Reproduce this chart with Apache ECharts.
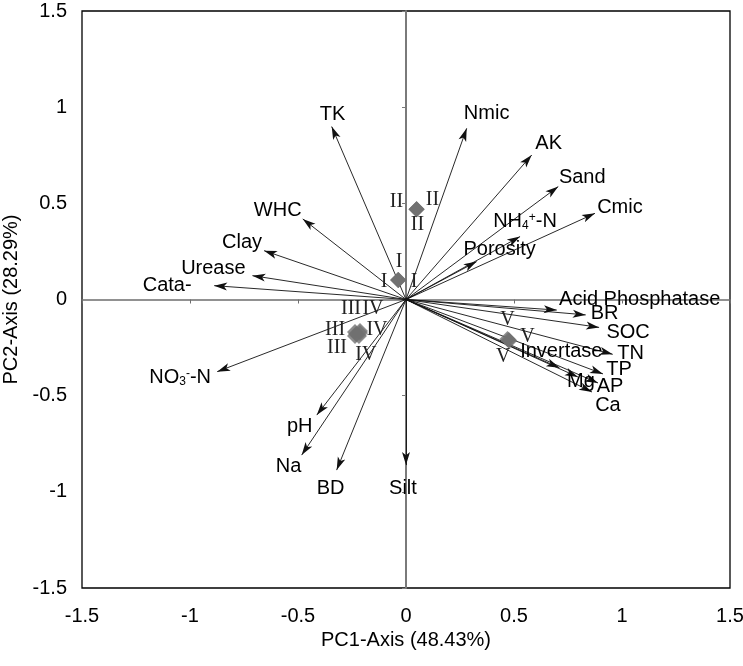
<!DOCTYPE html>
<html>
<head>
<meta charset="utf-8">
<script src="https://cdn.jsdelivr.net/npm/echarts@6/dist/echarts.min.js"></script>
<style>html,body{margin:0;padding:0;background:#fff}#chart{width:743px;height:666px}</style>
</head>
<body>
<div id="chart"></div>
<script>
// ---------------- DATA ----------------
const varNames = ['TK','Nmic','AK','Sand','Cmic','NH4+-N','Porosity','WHC','Clay','Urease','Cata-','NO3--N','pH','Na','BD','Silt','Acid Phosphatase','BR','SOC','TN','Invertase','TP','Mg','AP','Ca'];
const varPC1 = [-0.344, 0.281, 0.582, 0.705, 0.875, 0.528, 0.327, -0.478, -0.657, -0.711, -0.888, -0.874, -0.413, -0.483, -0.321, 0.000, 0.698, 0.832, 0.894, 0.957, 0.710, 0.912, 0.796, 0.889, 0.861];
const varPC2 = [0.899, 0.890, 0.751, 0.587, 0.448, 0.327, 0.197, 0.419, 0.254, 0.124, 0.072, -0.375, -0.601, -0.809, -0.887, -0.861, -0.055, -0.080, -0.145, -0.285, -0.355, -0.387, -0.403, -0.434, -0.481];

const sampleNames = ['I','I','I','II','II','II','III','III','III','IV','IV','IV','V','V','V'];
const samplePC1 = [-0.036, -0.036, -0.036, 0.049, 0.049, 0.049, -0.236, -0.236, -0.231, -0.213, -0.218, -0.213, 0.470, 0.478, 0.475];
const samplePC2 = [0.101, 0.101, 0.101, 0.469, 0.469, 0.469, -0.169, -0.190, -0.179, -0.174, -0.190, -0.164, -0.205, -0.215, -0.210];

const axisTicks = [-1.5, -1, -0.5, 0, 0.5, 1, 1.5];
const xName = 'PC1-Axis (48.43%)';
const yName = 'PC2-Axis (28.29%)';

// ---------------- STYLE (label placement in px, relative to the point) ----------------
const varLabelOffset = {
  'TK':[1,-12], 'Nmic':[20,-15], 'AK':[17,-12], 'Sand':[24,-9], 'Cmic':[25,-6],
  'NH4+-N':[5,-15], 'Porosity':[23,-12], 'WHC':[-25,-8], 'Clay':[-22,-8],
  'Urease':[-39,-7], 'Cata-':[-47,0], 'NO3--N':[-37,6], 'pH':[-17,11], 'Na':[-13,11],
  'BD':[-6,18], 'Silt':[-3,23], 'Acid Phosphatase':[83,-11], 'BR':[19,-1],
  'SOC':[29,5], 'TN':[18,-1], 'Invertase':[2,-16], 'TP':[16,-4], 'Mg':[3,5],
  'AP':[12,4], 'Ca':[16,14]
};
const sampleLabelOffset = [[1,-18],[-14,2],[16,2],[-20,-7],[16,-9],[1,16],[-4,-23],[-18,12],[-21,-4],[17,-3],[7,19],[13,-22],[0,-19],[-6,16],[19,-3]];

const labelFont = 'Liberation Sans, Arial, sans-serif';
const serifFont = 'Liberation Serif, Times New Roman, serif';

// ---------------- BUILD ----------------
const arrowData = varNames.map((n, i) => ({ name: n, coords: [[0, 0], [varPC1[i], varPC2[i]]] }));
const richFmt = {
  'NH4+-N': 'NH{sub|4}{sup|+}-N',
  'NO3--N': 'NO{sub|3}{sup|-}-N'
};
const varLabelData = varNames.map((n, i) => ({
  name: n,
  value: [varPC1[i], varPC2[i]],
  label: { position: varLabelOffset[n] }
}));
const sampleData = sampleNames.map((n, i) => ({ name: n, value: [samplePC1[i], samplePC2[i]] }));
const sampleLabelData = sampleNames.map((n, i) => ({
  name: n, value: [samplePC1[i], samplePC2[i]], label: { position: sampleLabelOffset[i] }
}));

const arrowPath = 'path://M0,0L4,12L0,9L-4,12ZM0,-12';

const chart = echarts.init(document.getElementById('chart'), null, { renderer: 'canvas' });
const option = {
  animation: false,
  backgroundColor: '#fff',
  textStyle: { fontFamily: labelFont },
  grid: { left: 82, right: 13, top: 11, bottom: 78, show: true, borderColor: '#000', borderWidth: 1.3, backgroundColor: 'transparent', outerBoundsMode: 'none', containLabel: false },
  xAxis: [
    { type: 'value', min: axisTicks[0], max: axisTicks[axisTicks.length - 1], interval: 0.5, position: 'bottom',
      axisLine: { show: false, onZero: false }, axisTick: { show: false }, splitLine: { show: false },
      axisLabel: { show: true, margin: 18, color: '#000', fontSize: 20, fontFamily: labelFont, showMinLabel: true, showMaxLabel: true, hideOverlap: false },
      name: xName, nameLocation: 'middle', nameGap: 42, nameTextStyle: { color: '#000', fontSize: 20, fontFamily: labelFont } },
    { type: 'value', min: axisTicks[0], max: axisTicks[axisTicks.length - 1], interval: 0.5, position: 'bottom',
      axisLine: { show: true, onZero: true, onZeroAxisIndex: 0, lineStyle: { color: '#6e6e6e', width: 1.5 } },
      axisTick: { show: true, length: 4, inside: false, lineStyle: { color: '#6e6e6e', width: 1 } },
      axisLabel: { show: false }, splitLine: { show: false } }
  ],
  yAxis: [
    { type: 'value', min: axisTicks[0], max: axisTicks[axisTicks.length - 1], interval: 0.5, position: 'left',
      axisLine: { show: false, onZero: false }, axisTick: { show: false }, splitLine: { show: false },
      axisLabel: { show: true, margin: 15, color: '#000', fontSize: 20, fontFamily: labelFont, showMinLabel: true, showMaxLabel: true, hideOverlap: false },
      name: yName, nameLocation: 'middle', nameGap: 60, nameTextStyle: { color: '#000', fontSize: 20, fontFamily: labelFont } },
    { type: 'value', min: axisTicks[0], max: axisTicks[axisTicks.length - 1], interval: 0.5, position: 'left',
      axisLine: { show: true, onZero: true, onZeroAxisIndex: 0, lineStyle: { color: '#7a7a7a', width: 2 } },
      axisTick: { show: true, length: 4, inside: false, lineStyle: { color: '#7a7a7a', width: 1 } },
      axisLabel: { show: false }, splitLine: { show: false } }
  ],
  series: [
    {
      type: 'lines', coordinateSystem: 'cartesian2d', xAxisIndex: 0, yAxisIndex: 0,
      data: arrowData, symbol: ['none', arrowPath], symbolSize: [0, [8, 26]],
      lineStyle: { color: '#111', width: 0.9, opacity: 1, curveness: 0 },
      silent: true, z: 3
    },
    {
      type: 'scatter', xAxisIndex: 0, yAxisIndex: 0, data: sampleData,
      symbol: 'diamond', symbolSize: 16, itemStyle: { color: '#707070' }, z: 4, silent: true
    },
    {
      type: 'scatter', xAxisIndex: 0, yAxisIndex: 0, data: sampleLabelData,
      symbolSize: 0.1, itemStyle: { color: 'transparent' }, z: 5, silent: true,
      label: { show: true, formatter: '{b}', color: '#222', fontSize: 20, fontFamily: serifFont, align: 'center', verticalAlign: 'middle', textBorderWidth: 0, opacity: 1 },
      labelLayout: { hideOverlap: false }
    },
    {
      type: 'scatter', xAxisIndex: 0, yAxisIndex: 0, data: varLabelData,
      symbolSize: 0.1, itemStyle: { color: 'transparent' }, z: 6, silent: true,
      label: {
        show: true, color: '#000', fontSize: 20, fontFamily: labelFont, align: 'center', verticalAlign: 'middle', textBorderWidth: 0, opacity: 1,
        formatter: p => richFmt[p.name] || p.name,
        rich: {
          sub: { fontSize: 12, fontFamily: labelFont, color: '#000', verticalAlign: 'bottom', padding: [8, 0, 0, 0] },
          sup: { fontSize: 12, fontFamily: labelFont, color: '#000', verticalAlign: 'top', padding: [0, 0, 8, 0] }
        }
      },
      labelLayout: { hideOverlap: false }
    }
  ]
};
chart.setOption(option);
</script>
</body>
</html>
